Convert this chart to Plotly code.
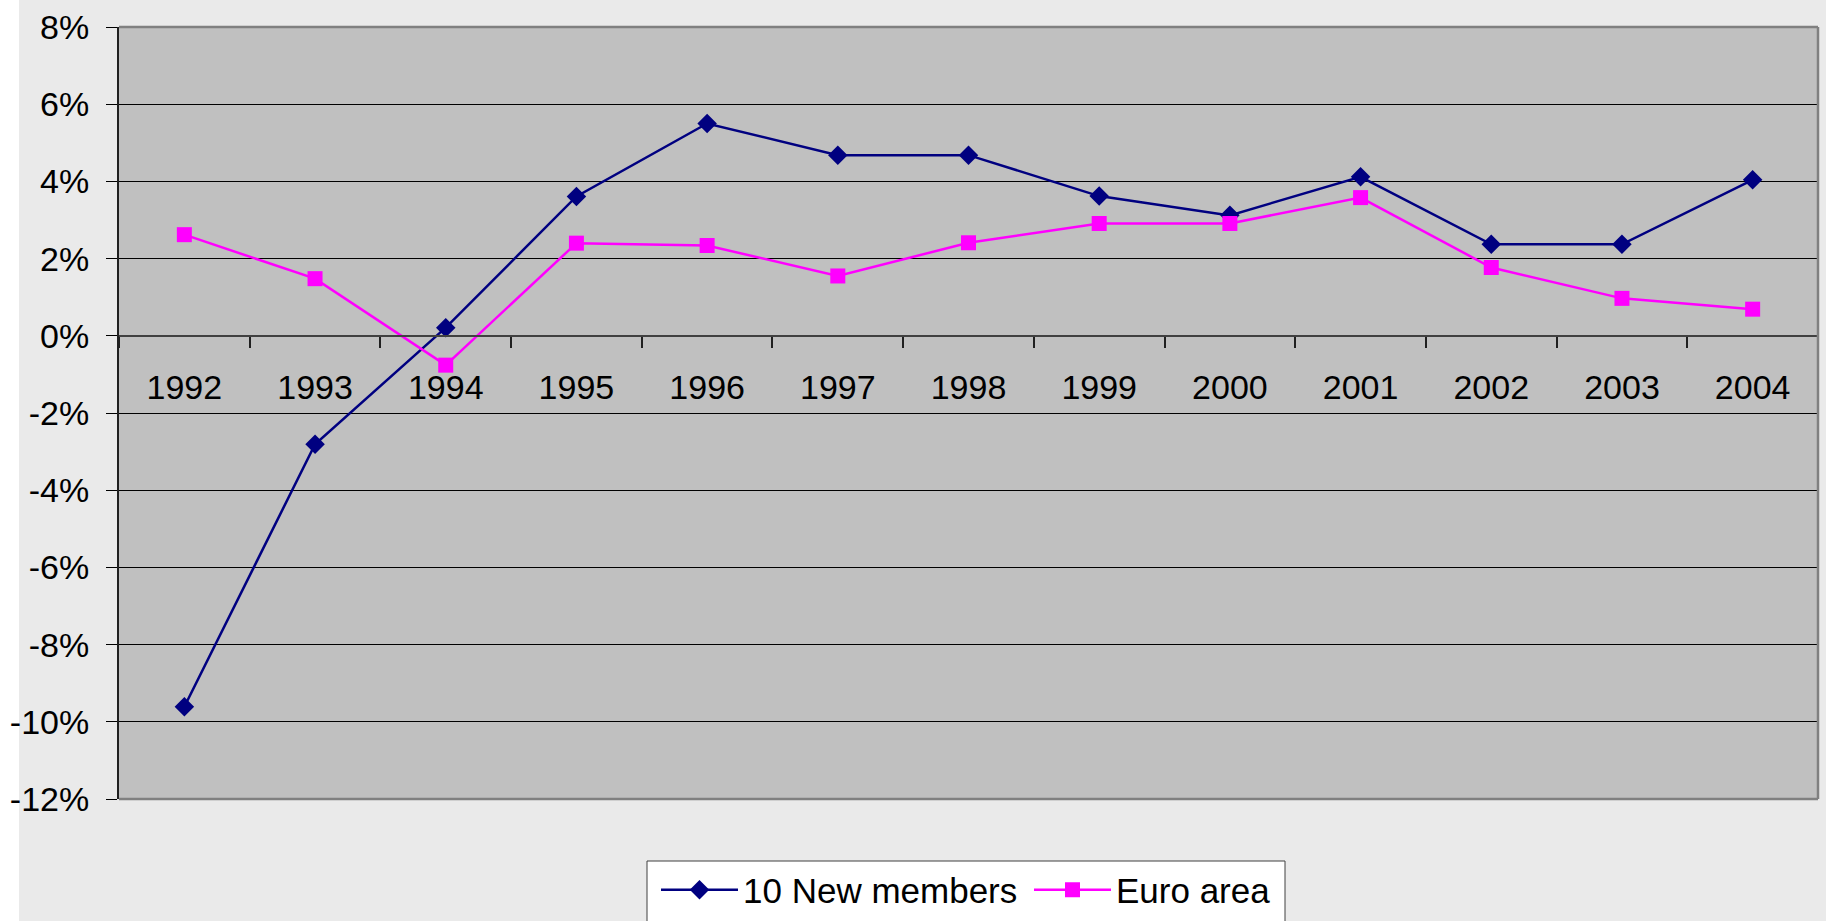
import plotly.graph_objects as go

years = ["1992", "1993", "1994", "1995", "1996", "1997", "1998",
         "1999", "2000", "2001", "2002", "2003", "2004"]
new_members = [-9.61, -2.81, 0.21, 3.61, 5.50, 4.68, 4.68,
               3.62, 3.12, 4.12, 2.37, 2.37, 4.04]
euro_area = [2.62, 1.48, -0.76, 2.40, 2.34, 1.55, 2.41,
             2.91, 2.91, 3.58, 1.77, 0.97, 0.69]
y_tick_vals = [8, 6, 4, 2, 0, -2, -4, -6, -8, -10, -12]
y_tick_text = ["8%", "6%", "4%", "2%", "0%", "-2%", "-4%", "-6%", "-8%", "-10%", "-12%"]

FONT = "Liberation Sans, Arial, sans-serif"
W, H = 1826, 921
L, R, T, B = 119, 8, 27, 122
plot_w = W - L - R
plot_h = H - T - B


def px_x(px):
    return (px - L) / plot_w


def px_y(py):
    return (T + plot_h - py) / plot_h


fig = go.Figure()
fig.add_trace(go.Scatter(
    x=years, y=new_members, name="10 New members", mode="lines+markers",
    line=dict(color="#000080", width=2.5),
    marker=dict(symbol="diamond", size=15, color="#000080"),
))
fig.add_trace(go.Scatter(
    x=years, y=euro_area, name="Euro area", mode="lines+markers",
    line=dict(color="#FF00FF", width=2.5),
    marker=dict(symbol="square", size=15, color="#FF00FF"),
))

# white strip at the far left of the page
fig.add_shape(type="rect", xref="paper", yref="paper",
              x0=px_x(-5), x1=px_x(19), y0=px_y(H + 5), y1=px_y(-5),
              fillcolor="white", line=dict(width=0), layer="below")
# plot-area border (top, right, bottom)
for (xa, ya, xb, yb) in [(0, 1, 1, 1), (1, 1, 1, 0), (0, 0, 1, 0)]:
    fig.add_shape(type="line", xref="paper", yref="paper",
                  x0=xa, y0=ya, x1=xb, y1=yb,
                  line=dict(color="#808080", width=2.5), layer="above")
# legend box
fig.add_shape(type="rect", xref="paper", yref="paper",
              x0=px_x(647), x1=px_x(1285), y0=px_y(H + 10), y1=px_y(861),
              fillcolor="white", line=dict(color="#404040", width=1), layer="below")

fig.update_layout(
    width=W, height=H,
    margin=dict(l=L, r=R, t=T, b=B, pad=0, autoexpand=False),
    paper_bgcolor="#EAEAEA",
    plot_bgcolor="#C0C0C0",
    font=dict(family=FONT, size=34, color="black"),
    showlegend=True,
    legend=dict(
        orientation="h",
        x=px_x(656), xanchor="left",
        y=px_y(890), yanchor="middle",
        bgcolor="rgba(0,0,0,0)", borderwidth=0,
        font=dict(family=FONT, size=35, color="black"),
        itemwidth=77,
        entrywidth=281, entrywidthmode="pixels",
    ),
    xaxis=dict(
        type="category",
        range=[-0.5, 12.5],
        anchor="free", position=12 / 20,
        automargin=False,
        showgrid=False, zeroline=False,
        showline=True, linecolor="#404040", linewidth=1.5,
        ticks="outside", ticklen=11, tickcolor="#202020", tickwidth=1.5,
        tickson="boundaries",
        ticklabelstandoff=22,
        tickfont=dict(family=FONT, size=34, color="black"),
    ),
    yaxis=dict(
        range=[-12, 8],
        automargin=False,
        tickvals=y_tick_vals, ticktext=y_tick_text,
        showgrid=True, gridcolor="black", gridwidth=1,
        zeroline=False,
        showline=True, linecolor="#202020", linewidth=2,
        ticks="outside", ticklen=11, tickcolor="black", tickwidth=1,
        ticklabelstandoff=10,
        tickfont=dict(family=FONT, size=34, color="black"),
    ),
)

fig.write_html(
    "out.html",
    config={"displayModeBar": False},
    post_script="document.body.style.margin='0';document.body.style.overflow='hidden';",
)
